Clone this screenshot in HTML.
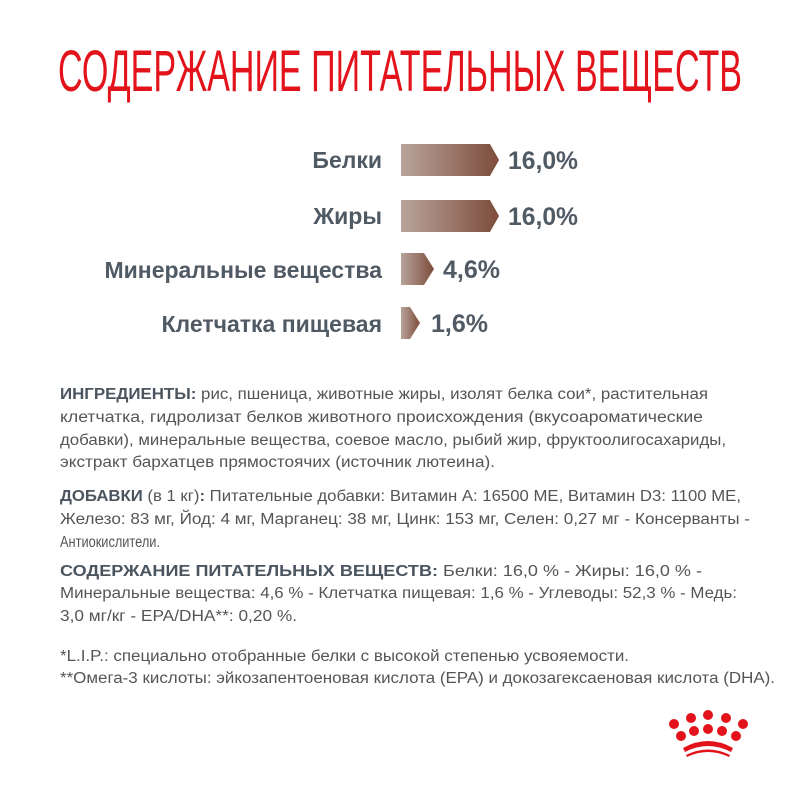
<!DOCTYPE html>
<html><head><meta charset="utf-8"><style>
html,body{margin:0;padding:0;background:#fff;width:800px;height:800px;overflow:hidden}
</style></head><body>
<svg width="800" height="800" viewBox="0 0 800 800" xmlns="http://www.w3.org/2000/svg">
<defs>
<linearGradient id="g" x1="0" x2="1" y1="0" y2="0">
<stop offset="0" stop-color="#b9a49b"/><stop offset="1" stop-color="#7d4c3b"/>
</linearGradient>
</defs>
<text x="58" y="91" font-family="Liberation Sans, sans-serif" font-size="58" fill="#e3131b" textLength="684" lengthAdjust="spacingAndGlyphs">СОДЕРЖАНИЕ ПИТАТЕЛЬНЫХ ВЕЩЕСТВ</text>

<g font-family="Liberation Sans, sans-serif" font-weight="bold" font-size="23" fill="#505a64" text-anchor="end">
<text x="382" y="168">Белки</text>
<text x="382" y="224">Жиры</text>
<text x="382" y="278">Минеральные вещества</text>
<text x="382" y="332">Клетчатка пищевая</text>
</g>
<polygon points="401,144 490,144 499,160 490,176 401,176" fill="url(#g)"/>
<polygon points="401,200 490,200 499,216 490,232 401,232" fill="url(#g)"/>
<polygon points="401,253 424,253 434,269 424,285 401,285" fill="url(#g)"/>
<polygon points="401,307 410,307 420,323 410,339 401,339" fill="url(#g)"/>
<g font-family="Liberation Sans, sans-serif" font-weight="bold" font-size="25" fill="#505a64">
<text x="508" y="169" textLength="70" lengthAdjust="spacingAndGlyphs">16,0%</text>
<text x="508" y="225" textLength="70" lengthAdjust="spacingAndGlyphs">16,0%</text>
<text x="443" y="278" textLength="57" lengthAdjust="spacingAndGlyphs">4,6%</text>
<text x="431" y="332" textLength="57" lengthAdjust="spacingAndGlyphs">1,6%</text>
</g>

<g font-family="Liberation Sans, sans-serif" font-size="15.5" fill="#555">
<text x="60" y="399" textLength="648" lengthAdjust="spacingAndGlyphs"><tspan font-weight="bold" fill="#4a5560">ИНГРЕДИЕНТЫ:</tspan> рис, пшеница, животные жиры, изолят белка сои*, растительная</text>
<text x="60" y="422" textLength="643" lengthAdjust="spacingAndGlyphs">клетчатка, гидролизат белков животного происхождения (вкусоароматические</text>
<text x="60" y="445" textLength="666" lengthAdjust="spacingAndGlyphs">добавки), минеральные вещества, соевое масло, рыбий жир, фруктоолигосахариды,</text>
<text x="60" y="467" textLength="435" lengthAdjust="spacingAndGlyphs">экстракт бархатцев прямостоячих (источник лютеина).</text>

<text x="60" y="501" textLength="681" lengthAdjust="spacingAndGlyphs"><tspan font-weight="bold" fill="#4a5560">ДОБАВКИ</tspan> (в 1 кг)<tspan font-weight="bold" fill="#4a5560">:</tspan> Питательные добавки: Витамин А: 16500 МЕ, Витамин D3: 1100 МЕ,</text>
<text x="60" y="524" textLength="690" lengthAdjust="spacingAndGlyphs">Железо: 83 мг, Йод: 4 мг, Марганец: 38 мг, Цинк: 153 мг, Селен: 0,27 мг - Консерванты -</text>
<text x="60" y="547" textLength="100" lengthAdjust="spacingAndGlyphs">Антиокислители.</text>

<text x="60" y="576" textLength="642" lengthAdjust="spacingAndGlyphs"><tspan font-weight="bold" fill="#4a5560">СОДЕРЖАНИЕ ПИТАТЕЛЬНЫХ ВЕЩЕСТВ:</tspan> Белки: 16,0 % - Жиры: 16,0 % -</text>
<text x="60" y="598" textLength="677" lengthAdjust="spacingAndGlyphs">Минеральные вещества: 4,6 % - Клетчатка пищевая: 1,6 % - Углеводы: 52,3 % - Медь:</text>
<text x="60" y="621" textLength="237" lengthAdjust="spacingAndGlyphs">3,0 мг/кг - EPA/DHA**: 0,20 %.</text>

<text x="60" y="661" textLength="569" lengthAdjust="spacingAndGlyphs">*L.I.P.: специально отобранные белки с высокой степенью усвояемости.</text>
<text x="60" y="683" textLength="715" lengthAdjust="spacingAndGlyphs">**Омега-3 кислоты: эйкозапентоеновая кислота (EPA) и докозагексаеновая кислота (DHA).</text>
</g>

<g fill="#e3131b">
<circle cx="674" cy="724" r="5"/><circle cx="691" cy="718" r="5"/><circle cx="708" cy="715" r="5"/><circle cx="726" cy="718" r="5"/><circle cx="743" cy="724" r="5"/>
<circle cx="681" cy="736" r="5"/><circle cx="694" cy="731" r="5"/><circle cx="708" cy="729" r="5"/><circle cx="722" cy="731" r="5"/><circle cx="736" cy="736" r="5"/>
<path d="M683,748 Q708,734 733,748 L731,752 Q708,740 685,752 Z"/>
<path d="M686,755 Q708,744 730,755 L729,757 Q708,747 687,757 Z"/>
</g>
</svg>
</body></html>
